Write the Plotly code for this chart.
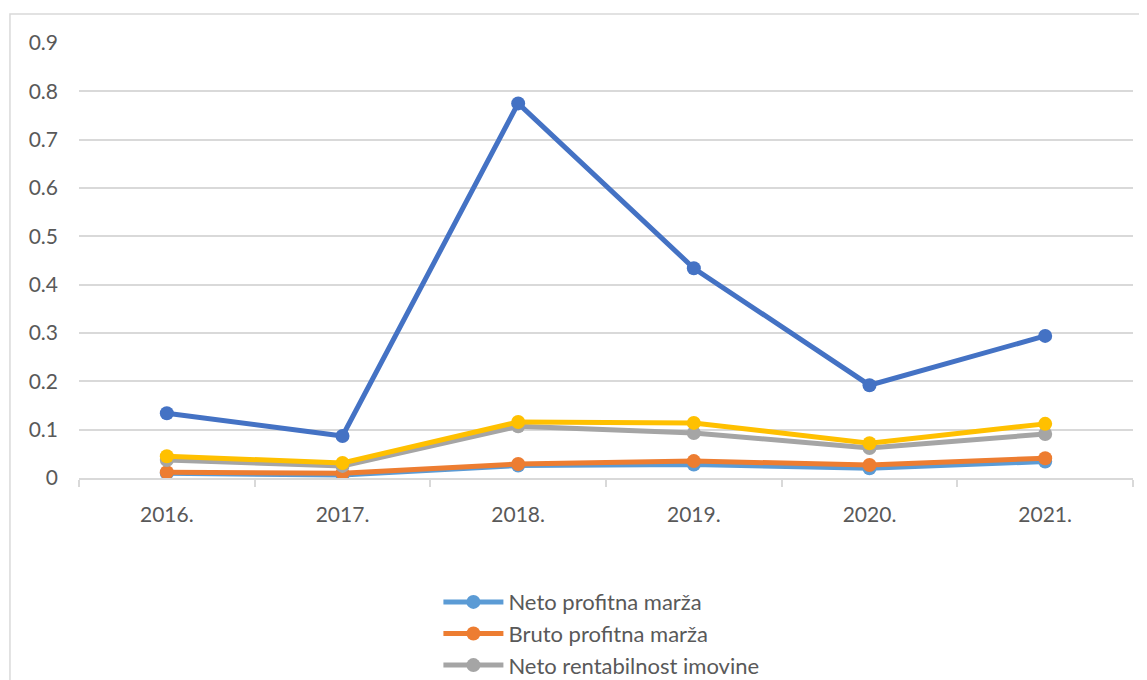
import plotly.graph_objects as go

years = ["2016.", "2017.", "2018.", "2019.", "2020.", "2021."]
neto_profitna_marza = [0.010, 0.006, 0.026, 0.028, 0.020, 0.034]
bruto_profitna_marza = [0.012, 0.010, 0.029, 0.035, 0.027, 0.041]
neto_rentabilnost_imovine = [0.037, 0.025, 0.107, 0.093, 0.062, 0.091]
serija_4 = [0.045, 0.031, 0.116, 0.114, 0.072, 0.112]
serija_5 = [0.134, 0.087, 0.775, 0.434, 0.192, 0.294]
y_ticks = [0, 0.1, 0.2, 0.3, 0.4, 0.5, 0.6, 0.7, 0.8, 0.9]
y_labels = ["0", "0.1", "0.2", "0.3", "0.4", "0.5", "0.6", "0.7", "0.8", "0.9"]

series = [
    ("Neto profitna marža", neto_profitna_marza, "#5B9BD5", True),
    ("Bruto profitna marža", bruto_profitna_marza, "#ED7D31", True),
    ("Neto rentabilnost imovine", neto_rentabilnost_imovine, "#A5A5A5", True),
    ("Bruto rentabilnost imovine", serija_4, "#FFC000", False),
    ("Neto rentabilnost kapitala", serija_5, "#4472C4", False),
]

fig = go.Figure()
for name, vals, color, show in series:
    fig.add_trace(go.Scatter(
        x=years, y=vals, name=name, mode="lines+markers",
        line=dict(color=color, width=5),
        marker=dict(color=color, size=14),
        showlegend=show,
    ))

FONT = "Lato"
fig.update_layout(
    width=1139, height=672,
    margin=dict(l=71, r=14, t=35, b=202, autoexpand=False),
    paper_bgcolor="white", plot_bgcolor="white",
    font=dict(family=FONT, size=21, color="#595959"),
    legend=dict(
        x=0.341, xanchor="left", y=-0.237, yanchor="top",
        orientation="v", font=dict(family=FONT, size=22, color="#595959"),
        bgcolor="rgba(0,0,0,0)", tracegroupgap=0, itemwidth=60,
    ),
    xaxis=dict(
        type="category", range=[-0.5, 5.5],
        showgrid=False, showline=True, linecolor="#D9D9D9", linewidth=1.5,
        ticks="outside", tickson="boundaries", ticklen=7, tickcolor="#D9D9D9", tickwidth=1.5,
        tickfont=dict(family=FONT, size=21, color="#595959"),
        ticklabelstandoff=17, zeroline=False,
    ),
    yaxis=dict(
        range=[0, 0.9], tickvals=y_ticks, ticktext=y_labels,
        showgrid=True, gridcolor="#D9D9D9", gridwidth=1.5,
        showline=False, zeroline=False, ticks="",
        tickfont=dict(family=FONT, size=21, color="#595959"),
        ticklabelstandoff=20,
    ),
    shapes=[dict(
        type="rect", xref="paper", yref="paper",
        x0=-0.0655, y0=-0.6, x1=1.03, y1=1.0667,
        line=dict(color="#D9D9D9", width=1.5), fillcolor="rgba(0,0,0,0)", layer="below",
    )],
)

fig.write_html("out.html")
